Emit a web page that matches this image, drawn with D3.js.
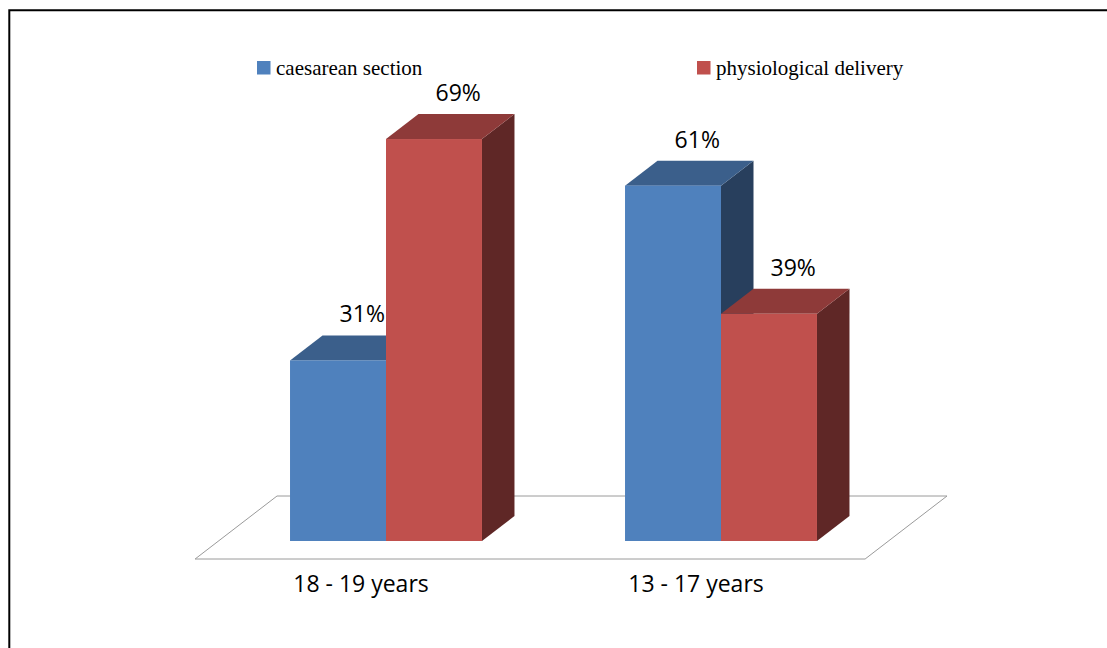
<!DOCTYPE html>
<html>
<head>
<meta charset="utf-8">
<script src="https://cdn.jsdelivr.net/npm/d3@7"></script>
<style>
  html, body { margin: 0; padding: 0; background: #fff; }
  svg { display: block; }
</style>
</head>
<body>
<svg id="chart" width="1107" height="648"></svg>
<script>
// Delivery mode by maternal age group (percent of births)
const categories = ["18 - 19 years", "13 - 17 years"];
const seriesNames = ["caesarean section", "physiological delivery"];
const caesarean = [31, 61];
const physiological = [69, 39];
const seriesValues = [caesarean, physiological];

const palette = [
  { front: "#4F81BD", top: "#3B5F8B", side: "#283F5D" },
  { front: "#C0504D", top: "#8E3A39", side: "#5F2726" }
];

const svg = d3.select("#chart");

// Outer frame (opens past the right and bottom edges of the page)
svg.append("path")
  .attr("d", "M1120,10.3 H9.3 V660")
  .attr("fill", "none")
  .attr("stroke", "#000")
  .attr("stroke-width", 2);

// Oblique depth projection
const depth = { dx: 32.5, dy: -25 };
const baseY = 541;

const x0 = d3.scaleBand()
  .domain(categories)
  .range([218.5, 888.5])
  .paddingInner(0.427)
  .paddingOuter(0.2135);

const x1 = d3.scaleBand()
  .domain(seriesNames)
  .range([0, x0.bandwidth()]);

const y = d3.scaleLinear()
  .domain([0, 70])
  .range([baseY, baseY - 407.8]);

// Floor plane
const [r0, r1] = x0.range();
const fFront = -0.72, fBack = 1.8;
const floorPts = [
  [r0 + depth.dx * fFront, baseY + depth.dy * fFront],
  [r1 + depth.dx * fFront, baseY + depth.dy * fFront],
  [r1 + depth.dx * fBack, baseY + depth.dy * fBack],
  [r0 + depth.dx * fBack, baseY + depth.dy * fBack]
];
svg.append("path")
  .attr("d", d3.line()(floorPts) + "Z")
  .attr("fill", "#fff")
  .attr("stroke", "#9a9a9a")
  .attr("stroke-width", 1);

// Bars, drawn left to right so nearer faces overlap correctly
const bars = [];
categories.forEach((c, ci) => {
  seriesNames.forEach((s, si) => {
    bars.push({ cat: c, series: s, si, value: seriesValues[si][ci] });
  });
});

const barG = svg.append("g");
bars.forEach(b => {
  const xl = x0(b.cat) + x1(b.series);
  const xr = xl + x1.bandwidth();
  const yt = y(b.value);
  const yb = y(0);
  const { dx, dy } = depth;
  const col = palette[b.si];
  const g = barG.append("g");
  // side face
  g.append("path")
    .attr("d", d3.line()([[xr, yb], [xr + dx, yb + dy], [xr + dx, yt + dy], [xr, yt]]) + "Z")
    .attr("fill", col.side);
  // top face
  g.append("path")
    .attr("d", d3.line()([[xl, yt], [xl + dx, yt + dy], [xr + dx, yt + dy], [xr, yt]]) + "Z")
    .attr("fill", col.top);
  // front face
  g.append("rect")
    .attr("x", xl).attr("y", yt)
    .attr("width", xr - xl).attr("height", yb - yt)
    .attr("fill", col.front);
  // value label
  g.append("text")
    .attr("x", (xl + xr) / 2 + dx / 2 + 8)
    .attr("y", yt + dy - 13)
    .attr("text-anchor", "middle")
    .attr("font-family", "'Open Sans', sans-serif")
    .attr("font-size", 23)
    .attr("fill", "#000")
    .text(b.value + "%");
});

// Category labels
svg.append("g").selectAll("text")
  .data(categories)
  .join("text")
  .attr("x", d => x0(d) + x0.bandwidth() / 2 - 25)
  .attr("y", 591.5)
  .attr("text-anchor", "middle")
  .attr("font-family", "'Open Sans', sans-serif")
  .attr("font-size", 23)
  .attr("fill", "#000")
  .text(d => d);

// Legend
const legendX = [257, 697];
const legend = svg.append("g").selectAll("g")
  .data(seriesNames)
  .join("g")
  .attr("transform", (d, i) => `translate(${legendX[i]},61)`);
legend.append("rect")
  .attr("width", 13.5).attr("height", 13.5)
  .attr("fill", (d, i) => palette[i].front);
legend.append("text")
  .attr("x", 19)
  .attr("y", 13.5)
  .attr("font-family", "'Liberation Serif', 'Times New Roman', serif")
  .attr("font-size", 21)
  .attr("fill", "#000")
  .text(d => d);
</script>
</body>
</html>
